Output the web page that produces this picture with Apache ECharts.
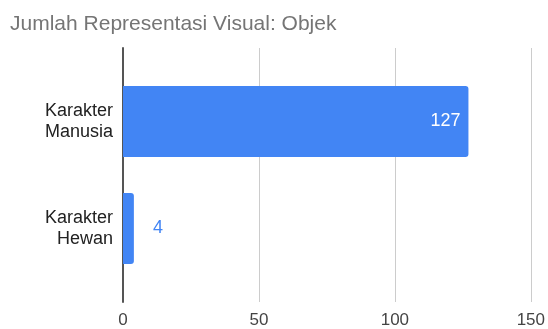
<!DOCTYPE html>
<html><head><meta charset="utf-8">
<script src="https://cdn.jsdelivr.net/npm/echarts@6/dist/echarts.min.js"></script>
<style>html,body{margin:0;padding:0;background:#fff}#c{width:548px;height:329px}</style>
</head><body><div id="c"></div>
<script>
const title = "Jumlah Representasi Visual: Objek";
const categories = ["Karakter\nManusia", "Karakter\nHewan"];
const values = [127, 4];
const xTicks = [0, 50, 100, 150];

const chart = echarts.init(document.getElementById('c'), null, {renderer: 'canvas'});
const font = "Arial, 'Liberation Sans', sans-serif";
chart.setOption({
  animation: false,
  title: {text: title, left: 10, top: 14, padding: 0, textStyle: {fontFamily: font, fontSize: 21, fontWeight: 'normal', color: '#757575'}},
  grid: [
    {left: 123, right: 17, top: 48, bottom: 26},
    {left: 123, right: 17, top: 68, bottom: 47}
  ],
  xAxis: [
    {type: 'value', gridIndex: 0, min: xTicks[0], max: xTicks[xTicks.length-1], interval: 50,
     axisLine: {show: false}, axisTick: {show: false},
     splitLine: {show: true, lineStyle: {color: '#cccccc', width: 1}},
     axisLabel: {margin: 10, fontFamily: font, fontSize: 17, color: '#444',
       formatter: v => xTicks.includes(v) ? String(v) : ''}},
    {type: 'value', gridIndex: 1, min: xTicks[0], max: xTicks[xTicks.length-1], show: false}
  ],
  yAxis: [
    {type: 'category', gridIndex: 0, data: [''], axisLine: {show: true, onZero: false, lineStyle: {color: '#555', width: 2}},
     axisTick: {show: false}, axisLabel: {show: false}, splitLine: {show: false}},
    {type: 'category', gridIndex: 1, data: categories, inverse: true,
     axisLine: {show: false}, axisTick: {show: false},
     axisLabel: {margin: 10, fontFamily: font, fontSize: 18, color: '#222', lineHeight: 21, align: 'right'}}
  ],
  series: [{
    type: 'bar', xAxisIndex: 1, yAxisIndex: 1,
    data: values.map((v, i) => ({
      value: v,
      label: i === 0
        ? {show: true, position: 'insideRight', distance: 8, color: '#ffffff'}
        : {show: true, position: 'right', distance: 19, color: '#4285F4'}
    })),
    barWidth: 71,
    itemStyle: {color: '#4285F4', borderRadius: [0, 3, 3, 0]},
    label: {fontFamily: font, fontSize: 18}
  }]
});
</script></body></html>
